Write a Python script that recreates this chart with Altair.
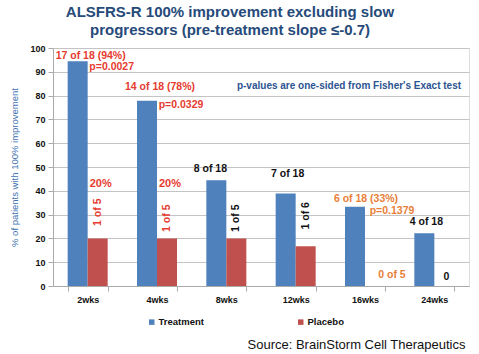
import altair as alt
import pandas as pd

weeks = ["2wks", "4wks", "8wks", "12wks", "16wks", "24wks"]
treatment = [94.4, 77.8, 44.4, 38.9, 33.3, 22.2]
placebo = [20, 20, 20, 16.7, 0, 0]
series = ["Treatment", "Placebo"]
colors = ["#4F81BD", "#C0504D"]
y_ticks = [0, 10, 20, 30, 40, 50, 60, 70, 80, 90, 100]

FONT = "Liberation Sans"
RED = "#E63B30"
ORANGE = "#E8803A"
BLACK = "#111111"

rows = []
for w, t, p in zip(weeks, treatment, placebo):
    rows.append({"week": w, "series": "Treatment", "value": t})
    rows.append({"week": w, "series": "Placebo", "value": p})
bars_df = pd.DataFrame(rows)

xscale = alt.Scale(domain=weeks, paddingInner=0.423, paddingOuter=0.2115)
oscale = alt.Scale(domain=series, paddingInner=0, paddingOuter=0)
yscale = alt.Scale(domain=[0, 100], nice=False)

xaxis = alt.Axis(title="Source: BrainStorm Cell Therapeutics",
                 titleFont=FONT, titleFontSize=13, titleFontWeight="normal",
                 titleColor="#111111", titleAnchor="end", titleAlign="right",
                 titleX=412, titleY=58, titleBaseline="middle",
                 labelFont=FONT, labelFontSize=9, labelFontWeight="bold",
                 labelColor="#111111", labelAngle=0, labelPadding=4,
                 tickBand="extent", tickSize=5, tickColor="#AAAAAA",
                 domainColor="#AAAAAA", grid=False)
yaxis = alt.Axis(title="% of patients with 100% improvement",
                 titleFont=FONT, titleFontSize=9.5, titleFontWeight="normal",
                 titleColor="#3E73B0", titlePadding=10,
                 values=y_ticks, labelOverlap=False,
                 labelFont=FONT, labelFontSize=9, labelFontWeight="bold",
                 labelColor="#111111", labelPadding=3,
                 tickSize=5, tickColor="#AAAAAA", domainColor="#AAAAAA",
                 grid=True, gridColor="#C4C4C4")

X = alt.X("week:N", scale=xscale, sort=weeks, axis=xaxis)
XO = alt.XOffset("series:N", scale=oscale, sort=series)
Y = alt.Y("value:Q", scale=yscale, axis=yaxis)

bars = alt.Chart(bars_df).mark_bar().encode(
    x=X, xOffset=XO, y=Y,
    color=alt.Color("series:N", scale=alt.Scale(domain=series, range=colors),
                    legend=alt.Legend(title=None, orient="none", direction="horizontal",
                                      legendX=94, legendY=269, symbolType="square",
                                      symbolSize=30, symbolStrokeWidth=0,
                                      labelFont=FONT, labelFontSize=9.5,
                                      labelFontWeight="bold", labelColor="#111111",
                                      labelOffset=2, columnPadding=92)),
)


def label(texts, wks, sers, vals, color, dx=0, dy=0, angle=0, align="center", size=10.5):
    df = pd.DataFrame({"text": texts, "week": wks, "series": sers, "value": vals})
    return alt.Chart(df).mark_text(
        font=FONT, fontSize=size, fontWeight="bold", color=color,
        dx=dx, dy=dy, angle=angle, align=align, baseline="middle",
    ).encode(x=X, xOffset=XO, y=Y, text="text:N")


layers = [
    bars,
    label(["17 of 18 (94%)", "14 of 18 (78%)"], ["2wks", "4wks"],
          ["Treatment", "Treatment"], [96.6, 83.6], RED, dx=13),
    label(["p=0.0027", "p=0.0329"], ["2wks", "4wks"],
          ["Placebo", "Placebo"], [92.0, 76.0], RED, dx=14),
    label(["20%", "20%"], ["2wks", "4wks"], ["Placebo", "Placebo"], [43.0, 43.0],
          RED, dx=3, size=11),
    label(["1 of 5", "1 of 5"], ["2wks", "4wks"], ["Placebo", "Placebo"], [31.0, 28.5],
          RED, angle=270),
    label(["1 of 5", "1 of 6"], ["8wks", "12wks"], ["Placebo", "Placebo"], [28.5, 29.5],
          BLACK, angle=270),
    label(["8 of 18"], ["8wks"], ["Treatment"], [49.0], BLACK, dx=-6),
    label(["7 of 18", "4 of 18"], ["12wks", "24wks"], ["Treatment", "Treatment"],
          [47.0, 27.0], BLACK, dx=2),
    label(["0"], ["24wks"], ["Placebo"], [3.8], BLACK, dx=2),
    label(["6 of 18 (33%)"], ["16wks"], ["Treatment"], [36.6], ORANGE, dx=11),
    label(["p=0.1379", "0 of 5"], ["16wks", "16wks"], ["Placebo", "Placebo"],
          [31.6, 4.8], ORANGE, dx=17),
    label(["p-values are one-sided from Fisher's Exact test"], ["16wks"], ["Treatment"],
          [84.0], "#2C5491", dx=-6, size=10),
]

chart = alt.layer(*layers).properties(
    width=416, height=238,
    autosize=alt.AutoSizeParams(type="none"),
    padding={"left": 53, "top": 48, "right": 10, "bottom": 68},
    title=alt.TitleParams(
        ["ALSFRS-R 100% improvement excluding slow",
         "progressors (pre-treatment slope \u2264-0.7)"],
        font=FONT, fontSize=15, fontWeight="bold", color="#264A7A",
        anchor="middle", dx=-31, offset=6, lineHeight=18,
    ),
).configure_view(stroke="#BBBBBB").configure(background="white")

chart.save("out.html", embed_options={"renderer": "svg", "actions": False})
